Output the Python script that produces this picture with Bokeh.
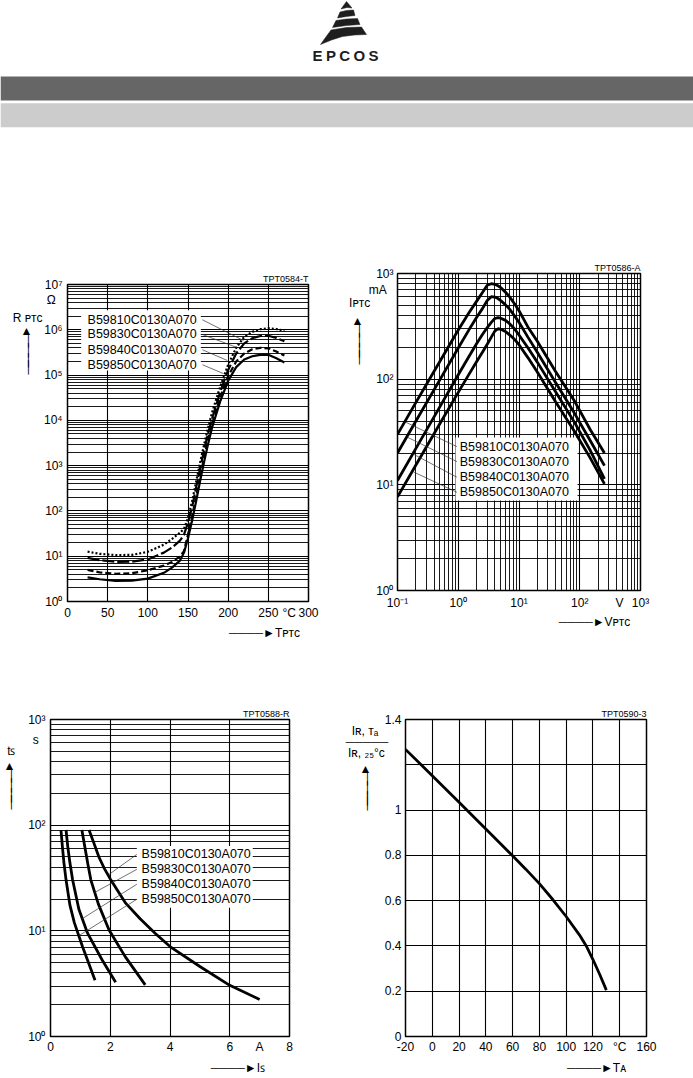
from bokeh.plotting import figure
from bokeh.layouts import column, row
from bokeh.models import FixedTicker, Range1d, Spacer, Title, LinearAxis, LogAxis, AllLabels
from bokeh.core.properties import value
from bokeh.embed import file_html
from bokeh.resources import INLINE

FONT = "Liberation Sans"
NB = "\u00a0"
HL = "\u2500"   # box drawing horizontal
VL = "\u2502"   # box drawing vertical
UP = "\u25b2"   # up triangle
RT = "\u25ba"   # right pointer

# ---------------- data ----------------
names = ["B59810C0130A070", "B59830C0130A070", "B59840C0130A070", "B59850C0130A070"]

# Chart 1: R_PTC (ohm) vs T_PTC (degC)
temp1 = [25, 40, 60, 80, 100, 120, 130, 140, 145, 150, 155, 160, 165, 170, 175, 180,
         190, 200, 210, 220, 230, 240, 250, 260, 270]
r_b59810 = [12.6, 11.3, 10.6, 10.7, 12.5, 18, 24, 33, 40, 70, 160, 430, 1150, 2900, 6800,
            1.5e4, 5.5e4, 1.7e5, 4.0e5, 7.0e5, 9.0e5, 1.03e6, 1.08e6, 1.04e6, 9.5e5]
r_b59830 = [9.2, 8.2, 7.5, 7.6, 8.5, 12, 15.5, 22, 30, 55, 120, 320, 850, 2200, 5200,
            1.1e4, 4.2e4, 1.3e5, 3.0e5, 5.0e5, 6.5e5, 7.3e5, 7.4e5, 6.6e5, 5.6e5]
r_b59840 = [5.0, 4.4, 4.1, 4.2, 4.9, 6.2, 7.5, 9.8, 13, 30, 75, 200, 550, 1500, 3800,
            8500, 3.2e4, 9.5e4, 2.0e5, 3.0e5, 3.7e5, 4.0e5, 3.9e5, 3.3e5, 2.7e5]
r_b59850 = [3.4, 3.1, 2.85, 2.9, 3.2, 4.3, 5.6, 8, 12, 25, 60, 160, 450, 1200, 3000,
            7000, 2.6e4, 7.5e4, 1.5e5, 2.2e5, 2.6e5, 2.8e5, 2.8e5, 2.35e5, 1.9e5]
leg1_x = 25
leg1_y = [1.66e6, 7.87e5, 3.61e5, 1.69e5]
lead1_x0 = [168, 168, 168, 168]
lead1_y0 = [1.66e6, 7.87e5, 3.61e5, 1.69e5]
lead1_x1 = [219, 211, 199, 194]
lead1_y1 = [5.8e5, 4.06e5, 2.10e5, 1.08e5]

# Chart 2: I_PTC (mA) vs V_PTC (V)
volt2 = [0.1, 0.2, 0.5, 1, 1.5, 2, 2.5, 3, 3.5, 4, 4.5, 5, 6, 7, 8.5, 10, 14, 20, 40, 82, 150, 255]
i_b59810 = [30, 60, 148, 292, 425, 545, 660, 775, 800, 790, 765, 735, 665, 600, 515, 445,
            312, 228, 118, 62, 33, 20]
i_b59830 = [20, 40, 99, 197, 293, 383, 465, 555, 603, 598, 580, 555, 505, 460, 395, 345,
            250, 180, 93, 47.5, 26, 15.2]
i_b59840 = [11, 22, 55, 110, 164, 216, 265, 308, 345, 375, 382, 378, 360, 335, 298, 262,
            198, 145, 76, 39, 21, 11.4]
i_b59850 = [7.7, 15.3, 38, 75, 111, 146, 180, 214, 250, 285, 300, 297, 282, 263, 237, 212,
            160, 117, 61, 32, 17.8, 10.2]
leg2_x = 1.06
leg2_y = [22.7, 16.4, 11.8, 8.5]
lead2_x0 = [0.95, 0.95, 0.95, 0.95]
lead2_y0 = [23, 16.6, 11.8, 8.5]
lead2_x1 = [0.137, 0.146, 0.177, 0.186]
lead2_y1 = [39.1, 28.2, 19.7, 13.2]

# Chart 3: t_S (s) vs I_S (A)
is_b59810 = [0.35, 0.40, 0.45, 0.52, 0.65, 0.80, 1.07, 1.49]
ts_b59810 = [90, 62, 44, 30.4, 17.5, 11.9, 7.1, 3.4]
is_b59830 = [0.52, 0.58, 0.65, 0.74, 0.95, 1.24, 1.73, 2.18]
ts_b59830 = [90, 62, 44, 30.4, 16, 9.5, 5.3, 3.26]
is_b59840 = [1.05, 1.15, 1.25, 1.35, 1.6, 1.96, 2.5, 3.17]
ts_b59840 = [90, 62, 43, 30.4, 18, 10.2, 5.7, 3.08]
is_b59850 = [1.29, 1.45, 1.62, 1.8, 2.0, 2.5, 3.0, 3.5, 4.0, 5.0, 6.0, 7.0]
ts_b59850 = [90, 68, 50, 39, 31, 18.5, 13, 9.5, 7.1, 4.6, 3.05, 2.24]
leg3_x = 3.05
leg3_y = [52.9, 38.2, 27.6, 19.9]
lead3_x0 = [2.89, 2.89, 2.89, 2.89]
lead3_y0 = [52.9, 38.2, 27.6, 19.9]
lead3_x1 = [1.95, 1.47, 1.06, 0.95]
lead3_y1 = [34, 23, 13, 9.0]

# Chart 4: I_R,TA / I_R,25C vs T_A (degC)
temp4 = [-20, 0, 20, 40, 60, 70, 80, 90, 100, 110, 115, 120, 125, 130]
ratio4 = [1.268, 1.152, 1.035, 0.916, 0.798, 0.738, 0.675, 0.605, 0.53, 0.448, 0.40, 0.34, 0.275, 0.205]

# tick labels
dec_labels = {1: "10⁰", 10: "10¹", 100: "10²", 1000: "10³", 1e4: "10⁴",
              1e5: "10⁵", 1e6: "10⁶", 1e7: "10⁷"}


# ---------------- helpers ----------------
def make_fig(**kw):
    p = figure(output_backend="svg", toolbar_location=None, title=None, **kw)
    try:
        p.frame_align = False
    except Exception:
        pass
    return p


def plain_axis(ax, size="12px", standoff=5):
    ax.axis_line_color = None
    ax.major_tick_line_color = None
    ax.minor_tick_line_color = None
    ax.major_tick_out = 0
    ax.major_tick_in = 0
    ax.minor_tick_out = 0
    ax.minor_tick_in = 0
    ax.major_label_text_font = FONT
    ax.major_label_text_font_size = size
    ax.major_label_text_color = "black"
    ax.major_label_standoff = standoff
    ax.major_label_policy = AllLabels()


def style(p, xstand=5, ystand=5):
    for ax in p.xaxis:
        plain_axis(ax, standoff=xstand)
    for ax in p.yaxis:
        plain_axis(ax, standoff=ystand)
    p.outline_line_color = "black"
    p.outline_line_width = 1.5
    for g in (p.xgrid, p.ygrid):
        g.grid_line_color = "black"
        g.grid_line_width = 1.1
        g.minor_grid_line_color = "black"
        g.minor_grid_line_width = 0.9
    p.background_fill_color = "white"
    p.border_fill_color = "white"


def name_axis(p, cls, tick, text, standoff):
    ax = cls(ticker=FixedTicker(ticks=[tick]), major_label_overrides={tick: text})
    plain_axis(ax, standoff=standoff)
    p.add_layout(ax, "below")


def code_title(p, text):
    p.add_layout(Title(text=text, align="right", text_font=FONT, text_font_size="9px",
                       text_font_style="normal", text_color="black", standoff=2), "above")


def left_labels(p, conv, ticks, overrides, extra):
    """extra: list of (screen_y, text) labels placed on the left axis"""
    t = list(ticks)
    ov = dict(overrides)
    for sy, txt in extra:
        v = conv(0, sy)[1]
        t.append(v)
        ov[v] = txt
    p.yaxis.ticker = FixedTicker(ticks=t)
    p.yaxis.major_label_overrides = ov


def up_arrow_labels(tip, tail, pad=9):
    labs = [(tip + 5, UP + NB * pad)]
    y = tip + 14
    while y < tail - 6:
        labs.append((y, VL + NB * pad))
        y += 10
    labs.append((tail - 6, VL + NB * pad))
    return labs


def c1(sx, sy):
    return ((sx - 67) * 300 / 241, 10 ** ((601 - sy) * 7 / 317))


def c2(sx, sy):
    return (10 ** (-1 + (sx - 397) * 4 / 243), 10 ** ((590 - sy) * 3 / 317))


def c3(sx, sy):
    return ((sx - 48) * 8 / 241, 10 ** ((1036 - sy) * 3 / 317))


def c4(sx, sy):
    return (-20 + (sx - 405) * 180 / 241, (1036 - sy) * 1.4 / 317)


def log_minors(d0, d1):
    return [k * 10 ** d for d in range(d0, d1) for k in range(2, 10)]


def legend_text(p, x, ys):
    p.text(x=[x] * 4, y=ys, text=names, text_font=value(FONT),
           text_font_size=value("12.5px"), text_baseline="middle", text_align="left",
           text_color="black")


ARROW = HL * 4 + RT

# ---------------- header ----------------
ph = figure(width=693, height=128, x_range=Range1d(0, 693), y_range=Range1d(128, 0),
            output_backend="svg", toolbar_location=None, title=None, min_border=0,
            x_axis_location=None, y_axis_location=None)
ph.grid.visible = False
ph.outline_line_color = None
ph.quad(left=0, right=693, top=76, bottom=100, fill_color="#666666", line_color=None)
ph.quad(left=0, right=693, top=102.7, bottom=126.7, fill_color="#cccccc", line_color=None)
logo_parts = [
    [(0, 0), (5.5, 6.5), (0.5, 6), (-5.5, 7.5)],
    [(-6.5, 10.5), (0, 9), (7, 8.5), (8.5, 14), (0, 15), (-9, 16.5)],
    [(-10.5, 19), (0, 17.5), (11, 17), (13.5, 23), (0, 24), (-14, 26)],
    [(-15.5, 28.5), (0, 26), (15, 25.5), (20, 33), (8, 33.5), (-4, 35), (-15, 38.5), (-26, 43), (-21, 36)],
]
ph.patches(xs=[[346 + u for u, v in part] for part in logo_parts],
           ys=[[1 + v for u, v in part] for part in logo_parts],
           fill_color="#1e1e1e", line_color="#1e1e1e", line_width=0.5)
ph.text(x=[317, 330.4, 344.2, 358.9, 373.1], y=[54.5] * 5, text=list("EPCOS"),
        text_font=value(FONT), text_font_size=value("15px"), text_font_style="bold",
        text_align="center", text_baseline="middle", text_color="#1e1e1e")

# ---------------- chart 1 ----------------
p1 = make_fig(width=336, height=392, x_range=Range1d(0, 300), y_range=Range1d(1, 1e7),
              y_axis_type="log", min_border_left=67, min_border_right=28,
              min_border_top=28, min_border_bottom=47)
style(p1, xstand=4, ystand=5)
p1.xaxis.ticker = FixedTicker(ticks=[0, 50, 100, 150, 200, 250, 276, 300])
p1.xaxis.major_label_overrides = {276: "°C"}
p1.xgrid.ticker = FixedTicker(ticks=[0, 50, 100, 150, 200, 250, 300])
left_labels(p1, c1, [1, 10, 100, 1000, 1e4, 1e5, 1e6, 1e7], dec_labels,
            [(299, "Ω" + NB * 2), (317.5, "R ᴘᴛᴄ" + NB * 6)] + up_arrow_labels(325, 372))
p1.ygrid.ticker = FixedTicker(ticks=[1, 10, 100, 1000, 1e4, 1e5, 1e6, 1e7], minor_ticks=log_minors(0, 7))
p1.quad(left=17, right=166, bottom=1.26e5, top=2.7e6, fill_color="white", line_color=None)
p1.line(temp1, r_b59810, line_dash="2 2", line_width=2.2, color="black")
p1.line(temp1, r_b59830, line_dash="12 3", line_width=2.2, color="black")
p1.line(temp1, r_b59840, line_dash="6 3", line_width=2.2, color="black")
p1.line(temp1, r_b59850, line_width=2.2, color="black")
p1.segment(x0=lead1_x0, y0=lead1_y0, x1=lead1_x1, y1=lead1_y1, line_width=0.7, color="#333333")
legend_text(p1, leg1_x, leg1_y)
code_title(p1, "TPT0584-T")
name_axis(p1, LinearAxis, round(c1(264, 0)[0], 2), ARROW + "Tᴘᴛᴄ", 3)

# ---------------- chart 2 ----------------
p2 = make_fig(width=334, height=392, x_range=Range1d(0.1, 1000), y_range=Range1d(1, 1000),
              x_axis_type="log", y_axis_type="log", min_border_left=61, min_border_right=30,
              min_border_top=17, min_border_bottom=58)
style(p2, xstand=5, ystand=4)
p2.xaxis.ticker = FixedTicker(ticks=[0.1, 1, 10, 100, 451, 1000])
p2.xaxis.major_label_overrides = {0.1: "10⁻¹", 1: "10⁰", 10: "10¹", 100: "10²", 451: "V", 1000: "10³"}
p2.xgrid.ticker = FixedTicker(ticks=[0.1, 1, 10, 100, 1000], minor_ticks=log_minors(-1, 3))
left_labels(p2, c2, [1, 10, 100, 1000], dec_labels,
            [(289, "mA" + NB * 2), (302.5, "Iᴘᴛᴄ" + NB * 7)] + up_arrow_labels(315, 362))
p2.ygrid.ticker = FixedTicker(ticks=[1, 10, 100, 1000], minor_ticks=log_minors(0, 3))
p2.quad(left=0.9, right=91.8, bottom=7.1, top=28, fill_color="white", line_color=None)
for ser in (i_b59810, i_b59830, i_b59840, i_b59850):
    p2.line(volt2, ser, line_width=2.8, color="black")
p2.segment(x0=lead2_x0, y0=lead2_y0, x1=lead2_x1, y1=lead2_y1, line_width=0.7, color="#333333")
legend_text(p2, leg2_x, leg2_y)
code_title(p2, "TPT0586-A")
name_axis(p2, LogAxis, round(c2(594, 0)[0], 2), ARROW + "Vᴘᴛᴄ", 2)

# ---------------- chart 3 ----------------
p3 = make_fig(width=335, height=378, x_range=Range1d(0, 8), y_range=Range1d(1, 1000),
              y_axis_type="log", min_border_left=48, min_border_right=46,
              min_border_top=20, min_border_bottom=41)
style(p3, xstand=3, ystand=5)
p3.xaxis.ticker = FixedTicker(ticks=[0, 2, 4, 6, 7, 8])
p3.xaxis.major_label_overrides = {7: "A"}
p3.xgrid.ticker = FixedTicker(ticks=[0, 2, 4, 6, 8])
left_labels(p3, c3, [1, 10, 100, 1000], dec_labels,
            [(739, "s" + NB * 2), (750, "tꜱ" + NB * 9)] + up_arrow_labels(760, 807))
p3.ygrid.ticker = FixedTicker(ticks=[1, 10, 100, 1000], minor_ticks=log_minors(0, 3))
p3.quad(left=2.89, right=6.77, bottom=16.5, top=63.4, fill_color="white", line_color=None)
for xs_, ys_ in ((is_b59810, ts_b59810), (is_b59830, ts_b59830),
                 (is_b59840, ts_b59840), (is_b59850, ts_b59850)):
    p3.line(xs_, ys_, line_width=2.8, color="black")
p3.segment(x0=lead3_x0, y0=lead3_y0, x1=lead3_x1, y1=lead3_y1, line_width=0.7, color="#333333")
legend_text(p3, leg3_x, leg3_y)
code_title(p3, "TPT0588-R")
name_axis(p3, LinearAxis, round(c3(237, 0)[0], 3), ARROW + "Iꜱ", 4)

# ---------------- chart 4 ----------------
p4 = make_fig(width=341, height=378, x_range=Range1d(-20, 160), y_range=Range1d(0, 1.4),
              min_border_left=70, min_border_right=30, min_border_top=20, min_border_bottom=41)
style(p4, xstand=3, ystand=4)
p4.xaxis.ticker = FixedTicker(ticks=[-20, 0, 20, 40, 60, 80, 100, 120, 140, 160])
p4.xaxis.major_label_overrides = {-20: "-20", 0: "0", 20: "20", 40: "40", 60: "60", 80: "80",
                                  100: "100", 120: "120", 140: "°C", 160: "160"}
left_labels(p4, c4, [0, 0.2, 0.4, 0.6, 0.8, 1.0, 1.4],
            {0: "0", 0.2: "0.2", 0.4: "0.4", 0.6: "0.6", 0.8: "0.8", 1.0: "1", 1.4: "1.4"},
            [(730, "Iʀ, ᴛₐ" + NB * 7), (741.7, HL * 5 + NB * 4), (752.5, "Iʀ, ₂₅°ᴄ" + NB * 5)]
            + up_arrow_labels(763, 808))
p4.ygrid.ticker = FixedTicker(ticks=[0, 0.2, 0.4, 0.6, 0.8, 1.0, 1.2, 1.4])
p4.line(temp4, ratio4, line_width=2.8, color="black")
code_title(p4, "TPT0590-3")
name_axis(p4, LinearAxis, round(c4(596, 0)[0], 2), ARROW + "Tᴀ", 4)

layout = column(ph, Spacer(width=10, height=128), row(p1, p2),
                Spacer(width=10, height=51), row(p3, p4))

open("out.html", "w").write(file_html(layout, INLINE))
